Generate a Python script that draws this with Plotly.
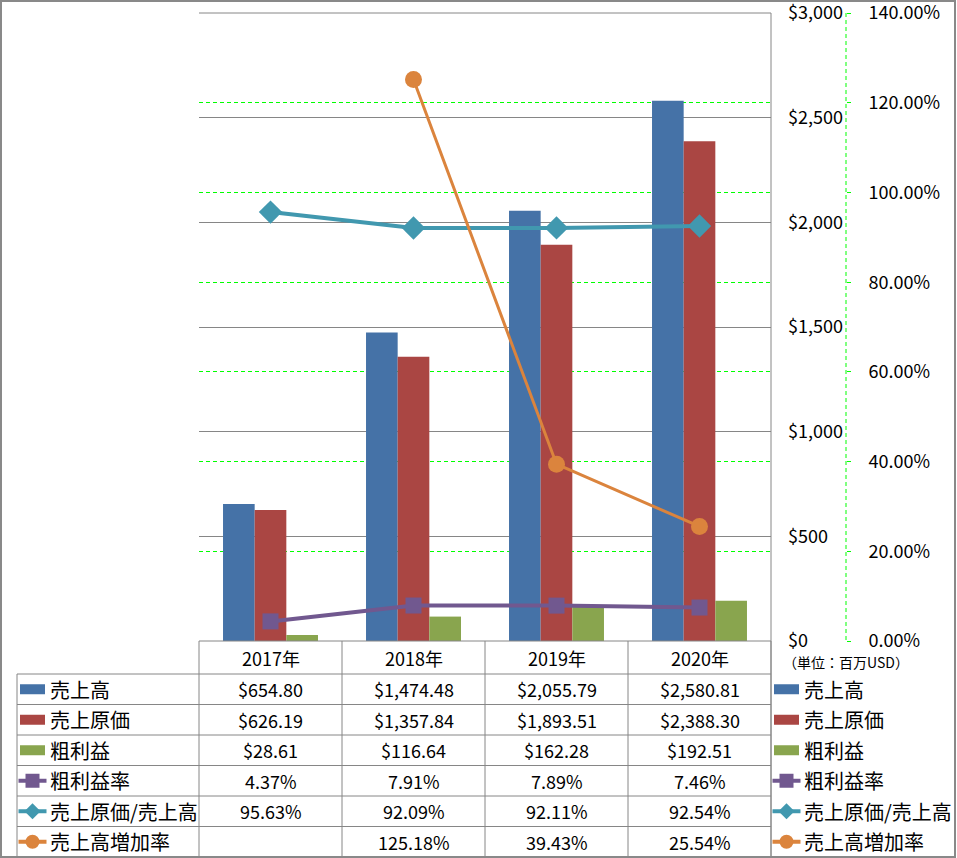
import plotly.graph_objects as go

# ---------------- data ----------------
years = ["2017年", "2018年", "2019年", "2020年"]
sales = [654.80, 1474.48, 2055.79, 2580.81]          # 売上高
cogs = [626.19, 1357.84, 1893.51, 2388.30]           # 売上原価
gross = [28.61, 116.64, 162.28, 192.51]              # 粗利益
gm_rate = [4.37, 7.91, 7.89, 7.46]                   # 粗利益率 (%)
cogs_ratio = [95.63, 92.09, 92.11, 92.54]            # 売上原価/売上高 (%)
growth = [None, 125.18, 39.43, 25.54]                # 売上高増加率 (%)

names = ["売上高", "売上原価", "粗利益", "粗利益率", "売上原価/売上高", "売上高増加率"]
colors = ["#4572A7", "#AA4643", "#89A54E", "#71588F", "#4198AF", "#DB843D"]
unit_label = "（単位：百万USD）"

# ---------------- geometry helpers ----------------
W, H = 957, 858
L, R, T, B = 199, 0, 13, 217
PW = W - L - R
PH = H - T - B
def px(x):
    return (x - L) / PW
def py(y):
    return (H - B - y) / PH

FONT = "Noto Sans CJK JP, Meiryo, sans-serif"
GRID = "#868686"
LIME = "#00FF00"

fig = go.Figure()

bar_series = [sales, cogs, gross]
for i, s in enumerate(bar_series):
    fig.add_trace(go.Bar(x=years, y=s, name=names[i], marker_color=colors[i],
                         marker_line_width=0, yaxis="y", showlegend=False))

line_series = [gm_rate, cogs_ratio, growth]
symbols = ["square", "diamond", "circle"]
msize = [16, 18, 17]
lwid = [4, 4, 3]
for j, s in enumerate(line_series):
    k = j + 3
    fig.add_trace(go.Scatter(x=years, y=s, name=names[k], yaxis="y2",
                             mode="lines+markers",
                             line=dict(color=colors[k], width=lwid[j]),
                             marker=dict(symbol=symbols[j], size=msize[j], color=colors[k],
                                         line=dict(width=0)),
                             connectgaps=False, showlegend=False))

shapes = []
annotations = []

def hline(x0, x1, y, color=GRID, width=1, dash=None):
    shapes.append(dict(type="line", xref="paper", yref="paper", x0=px(x0), x1=px(x1),
                       y0=py(y), y1=py(y), line=dict(color=color, width=width, dash=dash),
                       layer="above"))

def vline(x, y0, y1, color=GRID, width=1, dash=None):
    shapes.append(dict(type="line", xref="paper", yref="paper", x0=px(x), x1=px(x),
                       y0=py(y0), y1=py(y1), line=dict(color=color, width=width, dash=dash),
                       layer="above"))

# plot-area top and right edges
hline(199, 771, 13)
vline(771, 13, 857)
# secondary axis line (green dashed)
vline(846, 13, 641, color=LIME, width=1, dash="4px,3px")

# data table grid
row_top = 674
row_h = 30.5
col_edges = [199, 342, 485, 628, 771]
for x in col_edges:
    vline(x, 641, 857)
vline(17, row_top, 857)
hline(199, 771, 641)
for r in range(7):
    hline(17, 771, row_top + r * row_h)

# outer border
shapes.append(dict(type="rect", xref="paper", yref="paper", x0=px(1), x1=px(955),
                   y0=py(1), y1=py(857), line=dict(color="#898989", width=2), layer="above"))

TFS = 18
LFS = 20

# header (years)
for yr in years:
    annotations.append(dict(x=yr, xref="x", y=py(658), yref="paper", text=yr,
                            yanchor="middle", showarrow=False,
                            font=dict(size=TFS, color="black", family=FONT)))

def fmt_money(v):
    return "" if v is None else "${:,.2f}".format(v)
def fmt_pct(v):
    return "" if v is None else "{:.2f}%".format(v)

rows = [[fmt_money(v) for v in sales], [fmt_money(v) for v in cogs],
        [fmt_money(v) for v in gross], [fmt_pct(v) for v in gm_rate],
        [fmt_pct(v) for v in cogs_ratio], [fmt_pct(v) for v in growth]]

def legend_key(xc, yc, idx):
    col = colors[idx]
    if idx < 3:
        shapes.append(dict(type="rect", xref="paper", yref="paper",
                           x0=px(xc - 12.5), x1=px(xc + 12.5), y0=py(yc - 5), y1=py(yc + 5),
                           fillcolor=col, line=dict(width=0), layer="above"))
    else:
        shapes.append(dict(type="line", xref="paper", yref="paper",
                           x0=px(xc - 14), x1=px(xc + 14), y0=py(yc), y1=py(yc),
                           line=dict(color=col, width=4), layer="above"))
        if idx == 3:
            shapes.append(dict(type="rect", xref="paper", yref="paper",
                               x0=px(xc - 7), x1=px(xc + 7), y0=py(yc - 7), y1=py(yc + 7),
                               fillcolor=col, line=dict(width=0), layer="above"))
        elif idx == 4:
            d = 8
            path = "M {},{} L {},{} L {},{} L {},{} Z".format(
                px(xc), py(yc - d), px(xc + d), py(yc), px(xc), py(yc + d), px(xc - d), py(yc))
            shapes.append(dict(type="path", xref="paper", yref="paper", path=path,
                               fillcolor=col, line=dict(width=0), layer="above"))
        else:
            shapes.append(dict(type="circle", xref="paper", yref="paper",
                               x0=px(xc - 7), x1=px(xc + 7), y0=py(yc - 7), y1=py(yc + 7),
                               fillcolor=col, line=dict(width=0), layer="above"))

for r in range(6):
    yc = row_top + r * row_h + row_h / 2
    for c, yr in enumerate(years):
        annotations.append(dict(x=yr, xref="x", y=py(yc), yref="paper", text=rows[r][c],
                                yanchor="middle", showarrow=False,
                                font=dict(size=TFS, color="black", family=FONT)))
    # left legend column
    legend_key(32.5, yc, r)
    annotations.append(dict(x=px(48), xref="paper", y=py(yc), yref="paper", text=names[r],
                            xanchor="left", yanchor="middle", showarrow=False,
                            font=dict(size=LFS, color="black", family=FONT)))
    # right legend
    legend_key(786.5, yc, r)
    annotations.append(dict(x=px(802), xref="paper", y=py(yc), yref="paper", text=names[r],
                            xanchor="left", yanchor="middle", showarrow=False,
                            font=dict(size=LFS, color="black", family=FONT)))

annotations.append(dict(x=px(781), xref="paper", y=py(662), yref="paper", text=unit_label,
                        xanchor="left", yanchor="middle", showarrow=False,
                        font=dict(size=14, color="black", family=FONT)))

fig.update_layout(
    width=W, height=H,
    margin=dict(l=L, r=R, t=T, b=B, pad=0, autoexpand=False),
    paper_bgcolor="white", plot_bgcolor="white",
    barmode="group", bargap=0.336, bargroupgap=0,
    font=dict(family=FONT, size=TFS, color="black"),
    xaxis=dict(domain=[0, px(771)], showticklabels=False, ticks="",
               showline=False, showgrid=False, zeroline=False, automargin=False,
               range=[-0.5, 3.5], fixedrange=True),
    yaxis=dict(side="right", anchor="x", range=[0, 3000.5], dtick=500, tick0=0,
               tickprefix="$", tickformat=",d", showgrid=True, gridcolor=GRID, gridwidth=1,
               zeroline=False, showline=False, ticks="", ticklabelstandoff=16,
               automargin=False, ticklabeloverflow="allow",
               tickfont=dict(size=TFS, color="black", family=FONT)),
    yaxis2=dict(overlaying="y", side="right", anchor="free", position=px(846),
                range=[0, 140.02], dtick=20, tick0=0, ticksuffix="%", tickformat=".2f",
                showgrid=True, gridcolor=LIME, gridwidth=1, griddash="4px,3px",
                zeroline=False, showline=False, ticks="outside", ticklen=4,
                tickcolor=LIME, ticklabelstandoff=14, automargin=False,
                ticklabeloverflow="allow",
                tickfont=dict(size=TFS, color="black", family=FONT)),
    shapes=shapes, annotations=annotations,
)

fig.write_html("out.html")
